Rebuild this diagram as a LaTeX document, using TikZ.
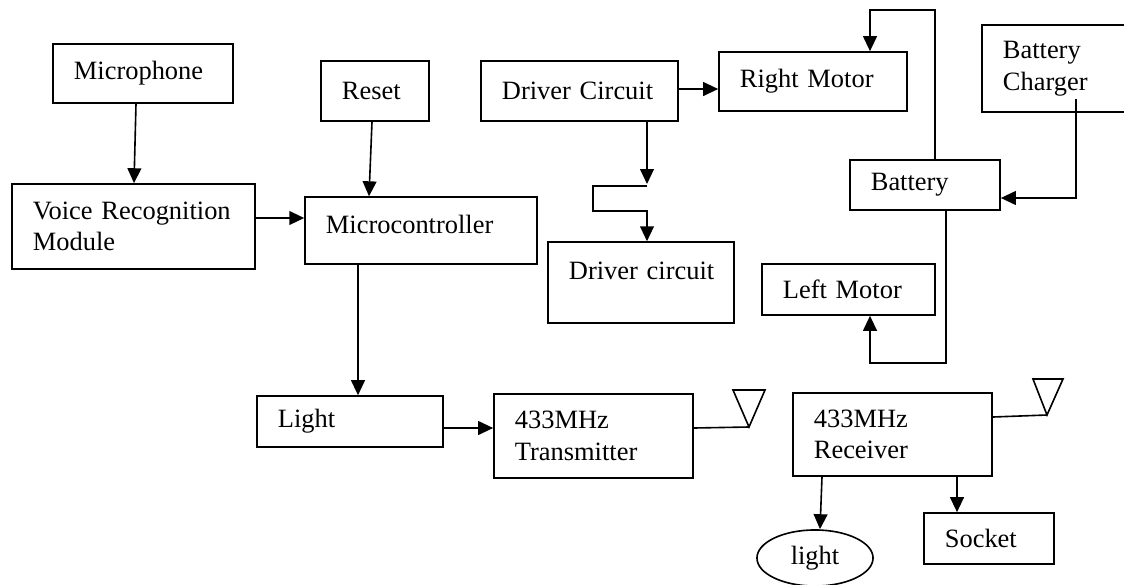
\documentclass[tikz,border=0pt]{standalone}
\usepackage{fontspec}
\setmainfont{Liberation Serif}
\usetikzlibrary{arrows.meta,calc,shapes.geometric}

\begin{document}
\begin{tikzpicture}[
  x=0.435pt,y=-0.435pt,
  font=\fontsize{11.5}{13.8}\selectfont,
  line width=0.7pt,
  box/.style={draw,rectangle,align=left,inner xsep=9.1pt,inner ysep=1pt},
  lamp/.style={draw,ellipse,inner sep=0pt},
  arr/.style={-{Triangle[length=6.5pt,width=6pt]}},
]
\clip (0,0) rectangle (1124,584);

% input side
\node[box,text width=60.1pt,minimum height=25.7pt] (mic) at (143,73.5) {Microphone};
\node[box,text width=87.5pt,minimum height=37pt] (vrm) at (133.5,226.5) {\mbox{Voice Recognition}\\Module};
\node[box,text width=28.8pt,minimum height=26.1pt] (reset) at (375,91) {Reset};
\node[box,text width=82.7pt,minimum height=29.1pt,text depth=5.2pt] (mcu) at (421,230.5) {Microcontroller};

% drive and power
\node[box,text width=67.5pt,minimum height=26.1pt] (drva) at (579.5,91) {\mbox{Driver Circuit}};
\node[box,text width=63.6pt,minimum height=25.7pt] (rmot) at (813,81.5) {\mbox{Right Motor}};
\node[box,text width=60.1pt,minimum height=37.8pt] (chg) at (1072,68.5) {Battery\\Charger};
\node[box,text width=47.1pt,minimum height=21.8pt] (batt) at (925,185) {Battery};
\node[box,text width=62.7pt,minimum height=35.2pt,text depth=10.4pt] (drvb) at (641,282.5) {\mbox{Driver circuit}};
\node[box,text width=57.1pt,minimum height=22.2pt] (lmot) at (848.5,289.5) {\mbox{Left Motor}};

% radio link
\node[box,text width=62.7pt,minimum height=22.2pt] (light) at (350,421.5) {Light};
\node[box,text width=68.4pt,minimum height=36.5pt] (tx) at (593.5,436) {433MHz\\Transmitter};
\node[box,text width=68.4pt,minimum height=36.1pt] (rx) at (892.5,434.5) {433MHz\\Receiver};
\node[box,text width=38.4pt,minimum height=22.2pt] (socket) at (989,538.5) {Socket};
\node[lamp,minimum width=50.5pt,minimum height=24.4pt] (lamp) at (815,558) {light};

% antennas
\coordinate (txant) at (749,427);
\coordinate (rxant) at (1047,415);
\draw (txant) -- ++(-16,-37) -- ++(32,0) -- cycle;
\draw (rxant) -- ++(-14,-36) -- ++(30,0) -- cycle;

\coordinate (jog) at (647,184);

\draw[arr] ($(mic.south)+(-7,0)$) -- ($(vrm.north)+(0.5,0)$);
\draw[arr] ($(vrm.east)+(0,-8.5)$) -- ($(mcu.west)+(0,-12.5)$);
\draw[arr] ($(reset.south)+(-3,0)$) -- ($(mcu.north)+(-52,0)$);
\draw[arr] ($(mcu.south)+(-63,0)$) -- ($(light.north)+(8,0)$);
\draw[arr] ($(light.east)+(0,6.5)$) -- ($(tx.west)+(0,-8)$);
\draw ($(tx.east)+(0,-8)$) -- (txant);
\draw ($(rx.east)+(0,-17.5)$) -- (rxant);

\draw[arr] ($(drva.east)+(0,-2)$) -- ($(rmot.west)+(0,7.5)$);
\draw[arr] ($(drva.south)+(67.5,0)$) -- (jog);
\draw[arr] ($(jog)+(0,2)$) -- ++(-54,0) -- ++(0,25) -| ($(drvb.north)+(6,0)$);
\draw[arr] ($(batt.north)+(10,0)$) |- ($(rmot.north)+(57,-41)$) -- ($(rmot.north)+(57,0)$);
\draw[arr] ($(chg.south)+(4,-14)$) |- ($(batt.east)+(0,13)$);
\draw[arr] ($(batt.south)+(21,0)$) |- ($(lmot.south)+(21.5,47)$) -- ($(lmot.south)+(21.5,0)$);

\draw[arr] ($(rx.south)+(-70.5,0)$) -- ($(lamp.north)+(5,0)$);
\draw[arr] ($(rx.south)+(64.5,0)$) -- ($(socket.north)+(-32,0)$);
\end{tikzpicture}
\end{document}
